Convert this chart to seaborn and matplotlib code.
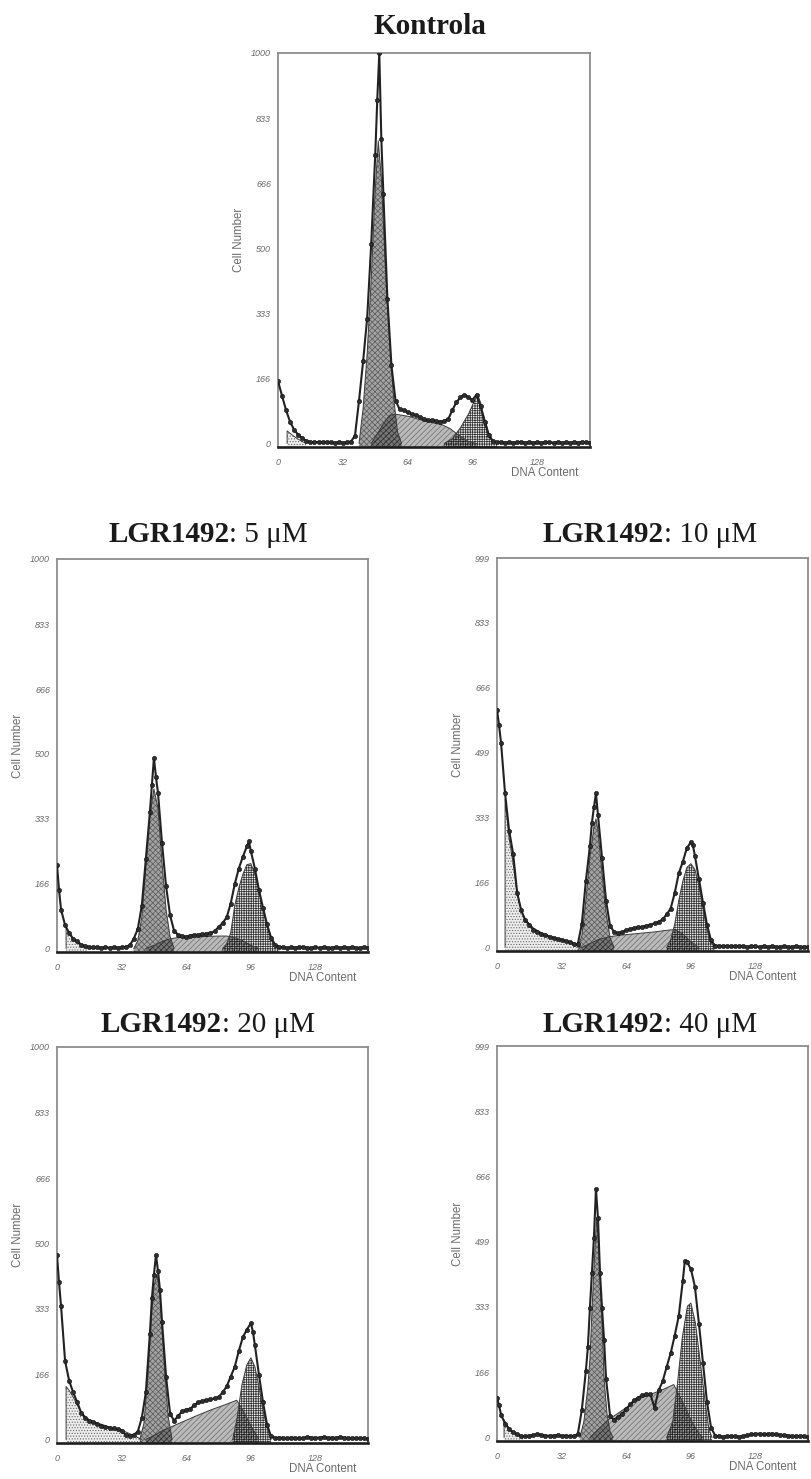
import numpy as np
import pandas as pd
import matplotlib
matplotlib.use("Agg")
import matplotlib.pyplot as plt
import seaborn as sns

# ---------------- data ----------------
TAIL_X = list(range(110, 155, 2))

# Kontrola
K_X = [0, 2, 4, 6, 8, 10, 12, 14, 16, 18, 20, 22, 24, 26, 28, 30, 32, 34, 36, 38, 40, 42, 44, 46, 48, 49, 50, 51,
       52, 54, 56, 58, 60, 62, 64, 66, 68, 70, 72, 74, 76, 78, 80, 82, 84, 86, 88, 90, 92, 94, 96, 98, 100, 102,
       104, 106, 108] + TAIL_X
K_Y = [160, 122, 85, 55, 35, 22, 13, 7, 4, 3, 4, 3, 4, 3, 2, 3, 2, 3, 5, 20, 110, 210, 320, 510, 740, 880, 1000, 780,
       640, 370, 200, 110, 88, 85, 80, 75, 72, 68, 62, 60, 60, 58, 56, 58, 62, 85, 105, 118, 125, 118, 112, 125, 95,
       55, 22, 6, 3] + [3, 2, 3, 2, 3, 4, 2, 3, 2, 3, 2, 3, 3, 2, 4, 2, 3, 2, 3, 2, 4, 3, 2]
K_DEB_X = [4.5, 4.5, 6, 8, 10, 12, 14]
K_DEB_Y = [0, 32, 26, 18, 11, 5, 0]
K_G1_X = [40, 42, 44, 46, 48, 49.5, 51, 53, 55, 57, 59, 61]
K_G1_Y = [0, 90, 230, 420, 650, 775, 680, 450, 270, 120, 30, 0]
K_S_X = [46, 49, 52, 55, 58, 65, 72, 81, 85, 89, 94, 98]
K_S_Y = [0, 25, 50, 72, 75, 69, 58, 48, 38, 22, 5, 0]
K_G2_X = [82, 86, 90, 94, 97, 98.5, 100, 101, 102.5, 104.3, 106, 108.5]
K_G2_Y = [0, 12, 40, 75, 110, 125, 105, 82, 55, 22, 8, 0]

# LGR1492 5 uM
A_X = [0, 1, 2, 4, 6, 8, 10, 12, 14, 16, 18, 20, 22, 24, 26, 28, 30, 32, 34, 36, 38, 40, 42, 44, 46, 47, 48, 49,
       50, 52, 54, 56, 58, 60, 62, 64, 66, 68, 70, 72, 74, 76, 78, 80, 82, 84, 86, 88, 90, 92, 94, 95, 96, 98, 100,
       102, 104, 106, 108] + TAIL_X
A_Y = [215, 150, 100, 60, 40, 25, 18, 10, 6, 4, 3, 3, 2, 3, 2, 3, 2, 3, 4, 8, 25, 50, 110, 230, 350, 420, 490, 440,
       400, 270, 160, 85, 45, 35, 32, 30, 33, 35, 35, 37, 38, 40, 44, 55, 65, 80, 115, 165, 205, 235, 262, 275, 250,
       205, 150, 105, 62, 28, 10] + [4, 3, 2, 3, 2, 4, 3, 2, 2, 3, 2, 3, 2, 2, 3, 2, 3, 2, 3, 2, 2, 3, 2]
A_DEB_X = [4.5, 4.5, 6, 8, 10, 12, 15]
A_DEB_Y = [0, 55, 40, 25, 15, 8, 0]
A_G1_X = [38, 40, 42, 44, 46, 48, 50, 52, 54, 56, 58]
A_G1_Y = [0, 20, 80, 210, 340, 410, 360, 220, 100, 30, 0]
A_S_X = [44, 48, 52, 56, 60, 70, 80, 84, 88, 92, 96, 100]
A_S_Y = [0, 8, 18, 25, 28, 30, 32, 32, 28, 20, 8, 0]
A_G2_X = [82, 84, 86, 88, 90, 92, 94, 96, 98, 100, 102, 104, 106, 108, 110]
A_G2_Y = [0, 12, 40, 110, 155, 190, 215, 218, 190, 148, 100, 58, 25, 5, 0]

# LGR1492 10 uM
B_X = [0, 1, 2, 4, 6, 8, 10, 12, 14, 16, 18, 20, 22, 24, 26, 28, 30, 32, 34, 36, 38, 40, 42, 44, 46, 47, 48, 49,
       50, 52, 54, 56, 58, 60, 62, 64, 66, 68, 70, 72, 74, 76, 78, 80, 82, 84, 86, 88, 90, 92, 94, 96, 97, 98, 100,
       102, 104, 106, 108] + TAIL_X
B_Y = [610, 570, 525, 395, 300, 240, 140, 95, 70, 58, 46, 40, 34, 31, 27, 24, 22, 20, 17, 14, 10, 8, 60, 170, 260,
       320, 360, 395, 340, 230, 120, 55, 40, 36, 40, 44, 47, 50, 52, 53, 56, 58, 62, 66, 72, 85, 100, 140, 190, 220,
       255, 270, 262, 235, 175, 115, 58, 18, 5] + [4, 3, 4, 3, 3, 4, 3, 2, 3, 3, 2, 3, 2, 3, 2, 2, 3, 2, 2, 3, 2, 2, 2]
B_DEB_X = [4, 4, 6, 8, 10, 12, 14, 18, 22, 26, 30, 34, 38, 42]
B_DEB_Y = [0, 380, 280, 215, 140, 95, 72, 50, 38, 30, 22, 15, 8, 0]
B_G1_X = [40, 42, 44, 46, 48, 49, 50, 52, 54, 56, 58]
B_G1_Y = [0, 30, 120, 230, 310, 330, 300, 190, 90, 25, 0]
B_S_X = [42, 46, 50, 56, 62, 70, 78, 84, 88, 92, 96, 100]
B_S_Y = [0, 10, 20, 28, 32, 36, 40, 44, 46, 35, 15, 0]
B_G2_X = [84, 86, 88, 90, 92, 94, 96, 98, 100, 102, 104, 106, 108]
B_G2_Y = [0, 20, 60, 120, 170, 205, 215, 200, 160, 100, 45, 12, 0]

# LGR1492 20 uM
C_X = [0, 1, 2, 4, 6, 8, 10, 12, 14, 16, 18, 20, 22, 24, 26, 28, 30, 32, 34, 36, 38, 40, 42, 44, 46, 47, 48, 49,
       50, 51, 52, 54, 56, 58, 60, 62, 64, 66, 68, 70, 72, 74, 76, 78, 80, 82, 84, 86, 88, 90, 92, 94, 96, 97, 98,
       100, 102, 104, 106, 108] + TAIL_X
C_Y = [470, 400, 340, 200, 150, 120, 95, 68, 55, 48, 44, 40, 35, 31, 30, 28, 26, 22, 12, 10, 12, 20, 55, 120, 270,
       360, 420, 470, 430, 380, 300, 160, 65, 48, 60, 72, 76, 78, 88, 95, 98, 100, 102, 105, 108, 120, 135, 160, 185,
       225, 260, 280, 296, 275, 240, 165, 95, 38, 8, 4] + [5, 4, 3, 5, 4, 3, 4, 6, 5, 4, 5, 6, 4, 5, 4, 6, 5, 4, 3, 4,
                                                          3, 3, 2]
C_DEB_X = [4.5, 4.5, 6, 8, 10, 12, 16, 20, 26, 32, 38, 42]
C_DEB_Y = [0, 135, 125, 108, 88, 68, 50, 42, 32, 24, 10, 0]
C_G1_X = [41, 43, 45, 47, 48, 49.5, 51, 53, 55, 57]
C_G1_Y = [0, 40, 160, 330, 390, 420, 370, 200, 60, 0]
C_S_X = [44, 48, 52, 60, 68, 76, 84, 89, 92, 96, 100]
C_S_Y = [0, 10, 22, 40, 58, 75, 90, 100, 75, 35, 0]
C_G2_X = [87, 89, 91.6, 94, 96, 98, 100, 102, 104, 106]
C_G2_Y = [0, 50, 140, 190, 208, 185, 135, 75, 30, 0]

# LGR1492 40 uM
D_X = [0, 1, 2, 4, 6, 8, 10, 12, 14, 16, 18, 20, 22, 24, 26, 28, 30, 32, 34, 36, 38, 40, 42, 44, 45, 46, 47, 48,
       49, 50, 51, 52, 53, 54, 56, 58, 60, 62, 64, 66, 68, 70, 72, 74, 76, 78, 80, 82, 84, 86, 88, 90, 92, 93, 94,
       96, 98, 100, 102, 104, 106, 108] + TAIL_X
D_Y = [100, 82, 58, 35, 22, 13, 8, 4, 3, 5, 6, 8, 7, 5, 4, 5, 6, 4, 5, 3, 4, 8, 70, 170, 230, 330, 420, 510, 634,
       560, 420, 330, 250, 150, 55, 45, 52, 60, 72, 85, 95, 102, 108, 110, 110, 75, 120, 143, 180, 215, 260, 310,
       400, 450, 448, 430, 385, 290, 190, 90, 25, 5] + [3, 2, 3, 4, 3, 2, 4, 6, 8, 9, 10, 8, 9, 10, 8, 7, 6, 5, 4, 3,
                                                       4, 3, 2]
D_DEB_X = [3.5, 3.5, 6, 8, 10, 13]
D_DEB_Y = [0, 45, 22, 12, 6, 0]
D_G1_X = [41, 43, 45, 46, 47, 48, 49.3, 50.5, 52, 53, 54.5, 56, 57.5]
D_G1_Y = [0, 40, 130, 200, 320, 430, 560, 480, 300, 150, 60, 15, 0]
D_S_X = [46, 50, 55, 60, 65, 70, 76, 82, 87.5, 92, 96, 100, 102]
D_S_Y = [0, 20, 45, 62, 80, 98, 110, 122, 135, 90, 45, 10, 0]
D_G2_X = [84, 87, 89.3, 91.8, 94.3, 96, 98.3, 100.8, 103.3, 104.9, 106.5]
D_G2_Y = [0, 40, 135, 257, 335, 343, 291, 187, 82, 22, 0]

X_TICKS = [0, 32, 64, 96, 128]
Y_TICKS_1000 = [0, 166, 333, 500, 666, 833, 1000]
Y_LABELS_1000 = ["0", "166", "333", "500", "666", "833", "1000"]
Y_TICKS_999 = [0, 166, 333, 499, 666, 833, 999]
Y_LABELS_999 = ["0", "166", "333", "499", "666", "833", "999"]

TITLES = [("Kontrola", ""), ("LGR1492", ": 5 μM"), ("LGR1492", ": 10 μM"),
          ("LGR1492", ": 20 μM"), ("LGR1492", ": 40 μM")]

# ---------------- figure ----------------
sns.set_style("white")
plt.rcParams["hatch.linewidth"] = 0.55
plt.rcParams["font.family"] = ["Liberation Sans", "DejaVu Sans"]

W, H = 811, 1479
fig = plt.figure(figsize=(W / 100, H / 100), dpi=100)


def add_ax(l, r, t, b):
    return fig.add_axes([l / W, 1 - b / H, (r - l) / W, (b - t) / H])


YBOT = -9


def comp_fill(ax, cx, cy, face, hatch, hcolor):
    ax.fill_between(cx, YBOT, cy, facecolor=face, edgecolor=hcolor, hatch=hatch, linewidth=0, zorder=2)
    ax.plot(cx, cy, color="#3c3c3c", lw=0.7, zorder=3)


def draw_panel(ax, x, y, deb, g1, s, g2, ytop, yticks, ylabels):
    ax.set_xlim(0, 154)
    ax.set_ylim(YBOT, ytop)
    comp_fill(ax, *s, face=(0, 0, 0, 0.27), hatch="//////", hcolor=(0, 0, 0, 0.38))
    comp_fill(ax, *g1, face=(0, 0, 0, 0.36), hatch="xxxxxx", hcolor=(0, 0, 0, 0.42))
    comp_fill(ax, *g2, face=(0, 0, 0, 0.08), hatch="+++++++", hcolor=(0, 0, 0, 0.78))
    comp_fill(ax, *deb, face=(0, 0, 0, 0.07), hatch="......", hcolor=(0, 0, 0, 0.5))
    df = pd.DataFrame({"x": x, "y": y})
    sns.lineplot(data=df, x="x", y="y", ax=ax, color="#222222", lw=1.5, marker="o", markersize=3.1,
                 markerfacecolor="#2e2e2e", markeredgecolor="#111111", markeredgewidth=0.4,
                 estimator=None, sort=False, zorder=5)
    ax.set_xlabel("")
    ax.set_ylabel("")
    ax.set_xticks(X_TICKS)
    ax.set_xticklabels([str(v) for v in X_TICKS], fontsize=6.5, style="italic", color="#6a6a6a")
    ax.set_yticks(yticks)
    ax.set_yticklabels(ylabels, fontsize=6.5, style="italic", color="#6a6a6a")
    ax.tick_params(axis="both", direction="out", length=3, width=0.8, color="#7a7a7a")
    ax.tick_params(axis="x", pad=5)
    ax.tick_params(axis="y", pad=2)
    for side in ["left", "top", "right"]:
        ax.spines[side].set_color("#8c8c8c")
        ax.spines[side].set_linewidth(1.3)
    ax.spines["bottom"].set_color("#1e1e1e")
    ax.spines["bottom"].set_linewidth(1.9)
    ax.text(0.962, -0.066, "DNA Content", transform=ax.transAxes, ha="right", va="center",
            fontsize=8.3, color="#6a6a6a")
    ax.annotate("Cell Number", xy=(0, 0.525), xycoords="axes fraction", xytext=(-39, 0),
                textcoords="offset pixels", rotation=90, ha="center", va="center",
                fontsize=8.3, color="#6a6a6a")


boxes = [(278, 590, 53, 447), (57, 368, 559, 952), (497, 808, 558, 951),
         (57, 368, 1047, 1443), (497, 808, 1046, 1441)]
series = [
    (K_X, K_Y, (K_DEB_X, K_DEB_Y), (K_G1_X, K_G1_Y), (K_S_X, K_S_Y), (K_G2_X, K_G2_Y), 1000, Y_TICKS_1000, Y_LABELS_1000),
    (A_X, A_Y, (A_DEB_X, A_DEB_Y), (A_G1_X, A_G1_Y), (A_S_X, A_S_Y), (A_G2_X, A_G2_Y), 1000, Y_TICKS_1000, Y_LABELS_1000),
    (B_X, B_Y, (B_DEB_X, B_DEB_Y), (B_G1_X, B_G1_Y), (B_S_X, B_S_Y), (B_G2_X, B_G2_Y), 999, Y_TICKS_999, Y_LABELS_999),
    (C_X, C_Y, (C_DEB_X, C_DEB_Y), (C_G1_X, C_G1_Y), (C_S_X, C_S_Y), (C_G2_X, C_G2_Y), 1000, Y_TICKS_1000, Y_LABELS_1000),
    (D_X, D_Y, (D_DEB_X, D_DEB_Y), (D_G1_X, D_G1_Y), (D_S_X, D_S_Y), (D_G2_X, D_G2_Y), 999, Y_TICKS_999, Y_LABELS_999),
]
for box, ser in zip(boxes, series):
    ax = add_ax(*box)
    draw_panel(ax, *ser)

# titles (bold compound name + regular concentration), centred on a point
title_pos = [(430, 34), (208, 542), (650, 542), (208, 1032), (650, 1032)]
renderer = fig.canvas.get_renderer()
for (bold, rest), (cx, by) in zip(TITLES, title_pos):
    t1 = fig.text(0, 1 - by / H, bold, fontsize=21, fontweight="bold", family="Liberation Serif",
                  ha="left", va="baseline", color="#1a1a1a")
    t2 = fig.text(0, 1 - by / H, rest, fontsize=21, family="Liberation Serif",
                  ha="left", va="baseline", color="#1a1a1a")
    w1 = t1.get_window_extent(renderer).width
    w2 = t2.get_window_extent(renderer).width if rest else 0
    x0 = cx - (w1 + w2) / 2
    t1.set_x(x0 / W)
    t2.set_x((x0 + w1) / W)

fig.savefig("out.png", dpi=100, facecolor="white")
